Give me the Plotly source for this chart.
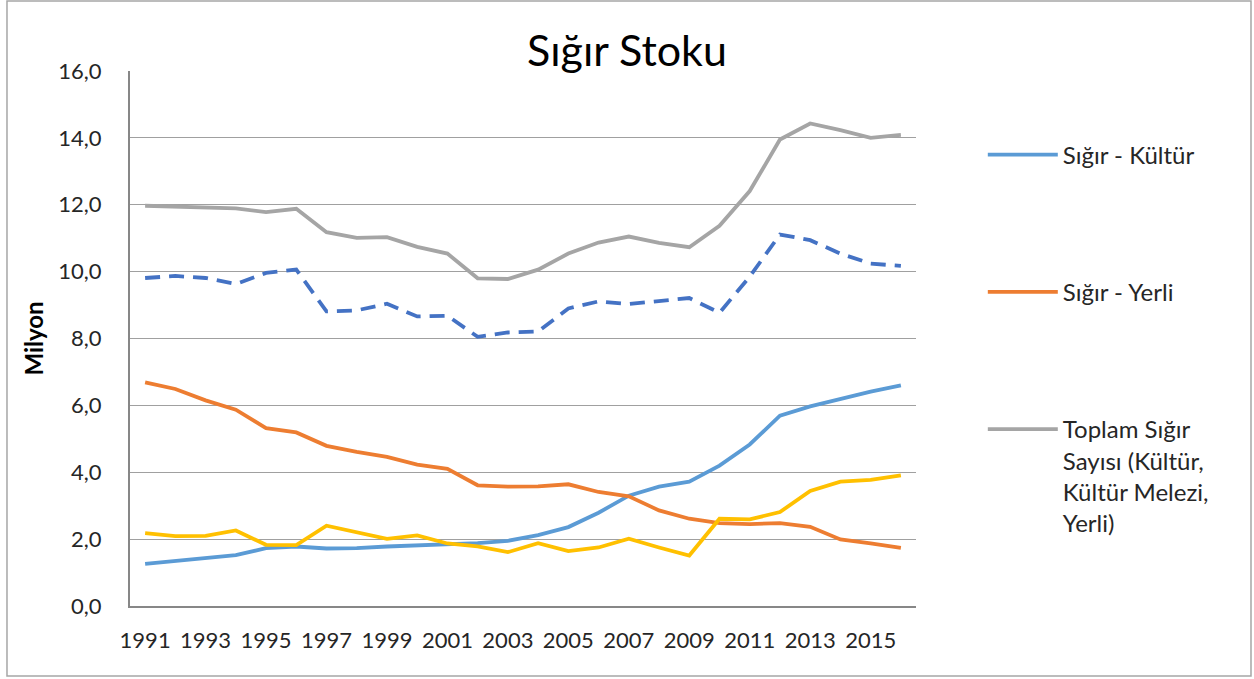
import plotly.graph_objects as go

years = list(range(1991, 2017))

kultur = [1.26, 1.35, 1.45, 1.52, 1.73, 1.78, 1.72, 1.73, 1.78, 1.81, 1.86, 1.88, 1.95,
          2.12, 2.36, 2.79, 3.30, 3.57, 3.72, 4.20, 4.83, 5.69, 5.97, 6.20, 6.41, 6.60]
yerli = [6.69, 6.49, 6.15, 5.87, 5.32, 5.19, 4.79, 4.61, 4.46, 4.23, 4.10, 3.61, 3.57,
         3.58, 3.64, 3.41, 3.28, 2.86, 2.61, 2.48, 2.45, 2.48, 2.37, 1.99, 1.87, 1.74]
toplam = [11.97, 11.95, 11.91, 11.89, 11.78, 11.88, 11.18, 11.01, 11.03, 10.74, 10.54, 9.80, 9.78,
          10.06, 10.54, 10.87, 11.05, 10.86, 10.73, 11.37, 12.41, 13.95, 14.43, 14.23, 14.00, 14.09]
melez = [2.18, 2.09, 2.10, 2.26, 1.83, 1.82, 2.40, 2.21, 2.01, 2.11, 1.87, 1.78, 1.61,
         1.88, 1.64, 1.75, 2.01, 1.75, 1.51, 2.61, 2.59, 2.81, 3.44, 3.72, 3.77, 3.91]
kesikli = [9.81, 9.87, 9.81, 9.63, 9.96, 10.06, 8.81, 8.84, 9.04, 8.66, 8.68, 8.05, 8.18,
           8.21, 8.90, 9.11, 9.03, 9.13, 9.21, 8.77, 9.85, 11.11, 10.94, 10.54, 10.24, 10.17]

tick_years = list(range(1991, 2016, 2))
y_ticks = [0, 2, 4, 6, 8, 10, 12, 14, 16]

FONT = "Lato"
LW = 3.8

fig = go.Figure()
fig.add_trace(go.Scatter(x=years, y=kultur, mode="lines", name="Sığır - Kültür",
                         line=dict(color="#5B9BD5", width=LW), legendgroup="a"))
fig.add_trace(go.Scatter(x=years, y=yerli, mode="lines", name="Sığır - Yerli",
                         line=dict(color="#ED7D31", width=LW), legendgroup="b"))
fig.add_trace(go.Scatter(x=years, y=toplam, mode="lines",
                         name="Toplam Sığır<br>Sayısı (Kültür,<br>Kültür Melezi,<br>Yerli)",
                         line=dict(color="#A5A5A5", width=LW), legendgroup="c"))
fig.add_trace(go.Scatter(x=years, y=melez, mode="lines", name="Sığır - Kültür Melezi",
                         line=dict(color="#FFC000", width=LW), showlegend=False))
fig.add_trace(go.Scatter(x=years, y=kesikli, mode="lines", name="Seri 5",
                         line=dict(color="#4472C4", width=LW, dash="15px,9px"), showlegend=False))

fig.update_layout(
    width=1254, height=679,
    margin=dict(l=130, r=338, t=71, b=73, autoexpand=False),
    paper_bgcolor="white", plot_bgcolor="white",
    separators=",.",
    font=dict(family=FONT, size=22, color="#000000"),
    title=dict(text="Sığır Stoku", x=0.5, xanchor="center", xref="container",
               y=0.925, yanchor="middle", font=dict(family=FONT, size=43, color="#000000")),
    showlegend=True,
    legend=dict(x=1.085, xanchor="left", y=0.885, yanchor="top",
                tracegroupgap=103, valign="top", itemwidth=70,
                font=dict(family=FONT, size=24, color="#262626"),
                bgcolor="rgba(0,0,0,0)"),
    shapes=[dict(type="rect", xref="paper", yref="paper",
                 x0=-0.1565, x1=1.4262, y0=-0.1308, y1=1.1308,
                 line=dict(color="#A6A6A6", width=1.5), layer="above")],
)

fig.update_xaxes(range=[1990.5, 2016.5], tickmode="array", tickvals=tick_years,
                 ticktext=[str(v) for v in tick_years], showgrid=False,
                 showline=True, linecolor="#878787", linewidth=2,
                 ticks="", ticklabelstandoff=14, zeroline=False, automargin=False,
                 tickfont=dict(family=FONT, size=22, color="#262626"))
fig.update_yaxes(range=[0, 16], tickmode="array", tickvals=y_ticks, tickformat=".1f",
                 showgrid=True, gridcolor="#A0A0A0", gridwidth=1.2,
                 showline=True, linecolor="#878787", linewidth=2, zeroline=False,
                 ticks="", ticklabelstandoff=22, automargin=False,
                 tickfont=dict(family=FONT, size=22, color="#262626"),
                 title=dict(text="<b>Milyon</b>", standoff=8,
                            font=dict(family=FONT, size=24, color="#000000")))

fig.write_html("out.html", config={"displayModeBar": False},
               post_script="document.body.style.margin='0px';")
